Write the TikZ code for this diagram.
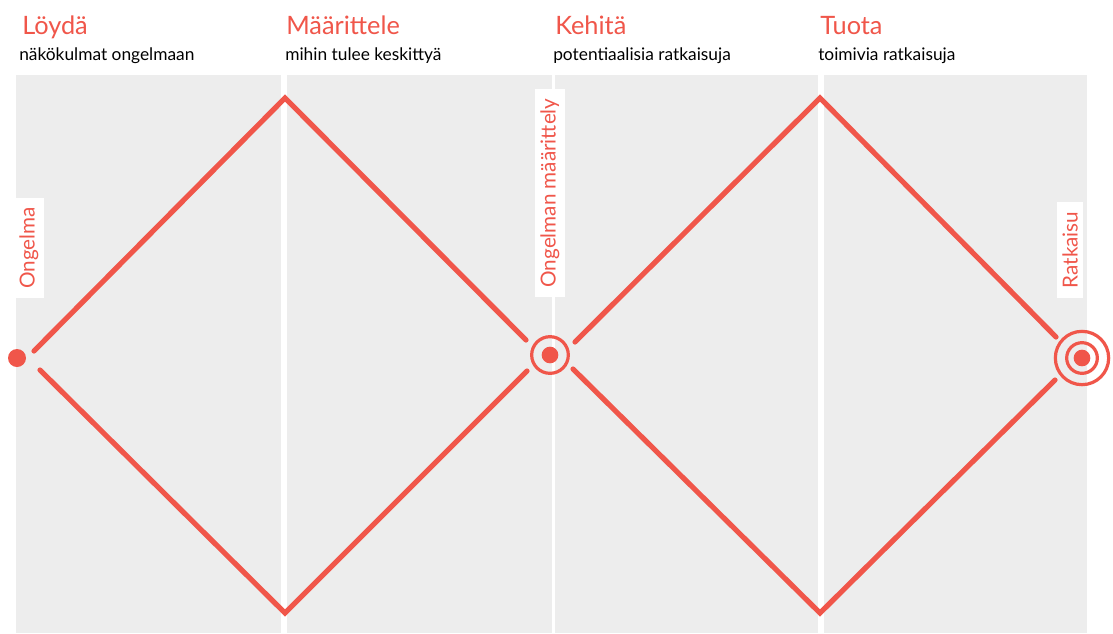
\documentclass[tikz,border=0pt]{standalone}
\usepackage{fontspec}
\setmainfont{Lato}
\definecolor{coral}{HTML}{F0564A}
\definecolor{panel}{HTML}{EDEDED}
\begin{document}
\begin{tikzpicture}[x=0.75pt,y=-0.75pt,
  panelbox/.style={fill=panel,draw=none},
  path/.style={draw=coral,line width=3.9pt,line cap=round,line join=miter},
  title/.style={anchor=base west,inner sep=0pt,text=coral,font=\fontsize{19}{19}\selectfont},
  subtitle/.style={anchor=base west,inner sep=0pt,text=black,font=\fontsize{13}{13}\selectfont},
  sidelabel/.style={fill=white,text=coral,rotate=90,inner xsep=7pt,inner ysep=4pt,font=\fontsize{15.5}{15.5}\selectfont},
  dot/.style={circle,fill=coral,inner sep=0pt,minimum size=13.5pt},
  ring/.style={circle,draw=coral,line width=2.4pt,inner sep=0pt,fill=none}]
\useasboundingbox[fill=white] (0,0) rectangle (1113,633);
% panels
\fill[panelbox] (16,75) rectangle (281,633);
\fill[panelbox] (287,75) rectangle (552,633);
\fill[panelbox] (555,75) rectangle (818,633);
\fill[panelbox] (824,75) rectangle (1087,633);
% titles
\node[title] (t1) at (22,34) {Löydä};
\node[subtitle] (s1) at (19,60) {näkökulmat ongelmaan};
\node[title] (t2) at (286,34) {Määrittele};
\node[subtitle] (s2) at (285,60) {mihin tulee keskittyä};
\node[title] (t3) at (555,34) {Kehitä};
\node[subtitle] (s3) at (553,60) {potentiaalisia ratkaisuja};
\node[title] (t4) at (820,34) {Tuota};
\node[subtitle] (s4) at (818,60) {toimivia ratkaisuja};
% side labels
\node[sidelabel] (l1) at (29,248) {Ongelma};
\node[sidelabel] (l2) at (550,193) {Ongelman määrittely};
\node[sidelabel] (l3) at (1070,250) {Ratkaisu};
% markers
\node[dot] (start) at (17,358) {};
\node[dot,minimum size=12.5pt] (mid) at (550,355) {};
\node[ring,minimum size=27.5pt] (midring) at (550,355) {};
\node[dot,minimum size=12.5pt] (end) at (1082,358) {};
\node[ring,minimum size=23pt] (endring1) at (1082,358) {};
\node[ring,minimum size=40pt] (endring2) at (1082,358) {};
% diamond vertices and free ends
\coordinate (top1) at (285,98);
\coordinate (bot1) at (285,613);
\coordinate (top2) at (820,98);
\coordinate (bot2) at (820,613);
\coordinate (a1) at (34,351);
\coordinate (a2) at (40,370);
\coordinate (b1) at (526,340);
\coordinate (b2) at (527,371);
\coordinate (c1) at (575,342);
\coordinate (c2) at (573,369);
\coordinate (d1) at (1056,337);
\coordinate (d2) at (1055,380);
% diamonds
\draw[path] (a1) -- (top1) -- (b1);
\draw[path] (a2) -- (bot1) -- (b2);
\draw[path] (c1) -- (top2) -- (d1);
\draw[path] (c2) -- (bot2) -- (d2);
\end{tikzpicture}
\end{document}
